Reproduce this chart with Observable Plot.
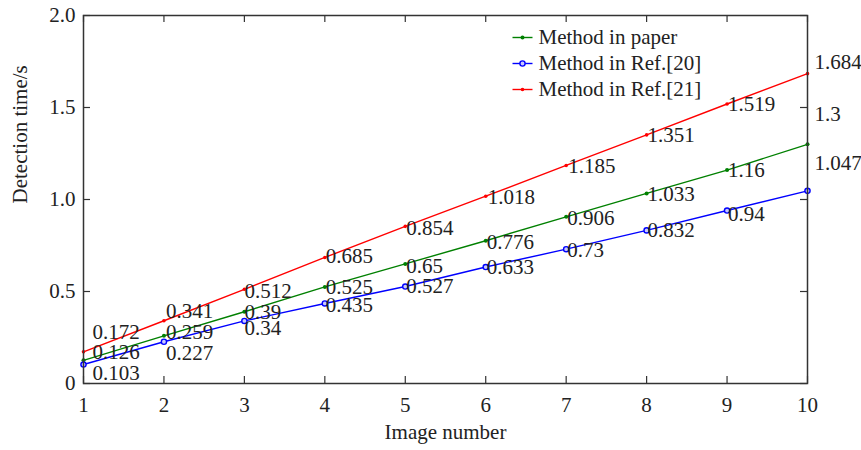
<!DOCTYPE html>
<html>
<head>
<meta charset="utf-8">
<script src="https://cdn.jsdelivr.net/npm/d3@7"></script>
<script src="https://cdn.jsdelivr.net/npm/@observablehq/plot@0.6"></script>
<style>
  html, body { margin: 0; padding: 0; background: #fff; }
</style>
</head>
<body>
<div id="chart"></div>
<script>
// ---- data ----
const imageNumbers = [1, 2, 3, 4, 5, 6, 7, 8, 9, 10];
const paperValues = [0.126, 0.259, 0.39, 0.525, 0.65, 0.776, 0.906, 1.033, 1.16, 1.3];
const ref20Values = [0.103, 0.227, 0.34, 0.435, 0.527, 0.633, 0.73, 0.832, 0.94, 1.047];
const ref21Values = [0.172, 0.341, 0.512, 0.685, 0.854, 1.018, 1.185, 1.351, 1.519, 1.684];
const seriesNames = ["Method in paper", "Method in Ref.[20]", "Method in Ref.[21]"];
const xTicks = [1, 2, 3, 4, 5, 6, 7, 8, 9, 10];
const yTicks = [0, 0.5, 1.0, 1.5, 2.0];
const yTickLabels = ["0", "0.5", "1.0", "1.5", "2.0"];
const xTitle = "Image number";
const yTitle = "Detection time/s";

// ---- styling / layout (not data) ----
const colors = ["#008000", "#0000ff", "#ff0000"];
const labelOffsets = [
  // [dx, dy] per point for each series' value labels
  [[9,-8],[2,-4],[0,1],[1,0],[1,2],[1,2],[1,1],[1,1],[1,0],[7,-30]],
  [[9,9],[2,12],[0,7],[1,2],[1,0],[1,0],[1,1],[1,0],[1,4],[7,-28]],
  [[9,-20],[2,-9],[0,2],[1,-1],[1,2],[2,1],[2,1],[1,0],[1,0],[7,-11]]
];
const markerStyles = [
  {r: 2, fill: colors[0], stroke: colors[0], strokeWidth: 0},
  {r: 2.6, fill: "#c8c8ff", stroke: colors[1], strokeWidth: 1.4},
  {r: 1.8, fill: colors[2], stroke: colors[2], strokeWidth: 0}
];

const allValues = [paperValues, ref20Values, ref21Values];
const rows = allValues.flatMap((vals, s) =>
  imageNumbers.map((n, i) => ({series: seriesNames[s], s, i, x: n, y: vals[i]})));

const W = 861, H = 450;
const mL = 83, mR = 54, mT = 15, mB = 67;
const innerW = W - mL - mR, innerH = H - mT - mB;
const fmt = d3.format("");
const FONT = "Liberation Serif, Times New Roman, serif";

const marks = [];

// inward ticks on all four sides
marks.push(Plot.tickX(xTicks, {x: d => d, insetTop: innerH - 7, stroke: "#333", strokeWidth: 1.2}));
marks.push(Plot.tickX(xTicks, {x: d => d, insetBottom: innerH - 7, stroke: "#333", strokeWidth: 1.2}));
marks.push(Plot.tickY(yTicks, {y: d => d, insetRight: innerW - 7, stroke: "#333", strokeWidth: 1.2}));
marks.push(Plot.tickY(yTicks, {y: d => d, insetLeft: innerW - 7, stroke: "#333", strokeWidth: 1.2}));

// axes labels
marks.push(Plot.axisX({ticks: xTicks, tickSize: 0, tickPadding: 14, label: null, tickFormat: fmt, fill: "#222"}));
marks.push(Plot.axisY({ticks: yTicks, tickSize: 0, tickPadding: 8, label: null,
  tickFormat: d => yTickLabels[yTicks.indexOf(d)], fill: "#222"}));

// lines, markers
seriesNames.forEach((name, s) => {
  const data = rows.filter(d => d.s === s);
  marks.push(Plot.line(data, {x: "x", y: "y", stroke: colors[s], strokeWidth: 1.4}));
  marks.push(Plot.dot(data, {x: "x", y: "y", ...markerStyles[s]}));
});

// value labels
rows.forEach(d => {
  const [dx, dy] = labelOffsets[d.s][d.i];
  marks.push(Plot.text([d], {x: "x", y: "y", text: v => fmt(v.y), textAnchor: "start",
    lineAnchor: "middle", dx, dy, fill: "#222", fontSize: 21}));
});

// legend
seriesNames.forEach((name, s) => {
  const dy = 22 + s * 26;
  const lineSym = {
    draw(ctx) { ctx.moveTo(-10, 0); ctx.lineTo(10, 0); }
  };
  marks.push(Plot.dot([name], {frameAnchor: "top-left", dx: 439, dy, symbol: lineSym,
    stroke: colors[s], strokeWidth: 1.4, r: 10}));
  marks.push(Plot.dot([name], {frameAnchor: "top-left", dx: 439, dy, ...markerStyles[s]}));
  marks.push(Plot.text([name], {frameAnchor: "top-left", dx: 455, dy, text: d => d,
    textAnchor: "start", lineAnchor: "middle", fill: "#222", fontSize: 21}));
});

// axis titles
marks.push(Plot.text([yTitle], {frameAnchor: "left", dx: -63, dy: 4, rotate: -90, text: d => d,
  fill: "#222", fontSize: 21}));
marks.push(Plot.text([xTitle], {frameAnchor: "bottom", dy: 55, text: d => d, fill: "#222", fontSize: 21}));

marks.push(Plot.frame({stroke: "#333", strokeWidth: 1.5}));

const chart = Plot.plot({
  width: W, height: H,
  marginLeft: mL, marginRight: mR, marginTop: mT, marginBottom: mB,
  x: {domain: [1, 10], axis: null},
  y: {domain: [0, 2], axis: null},
  style: {fontFamily: FONT, fontSize: "21px", background: "#fff", color: "#222", overflow: "visible"},
  marks
});
document.getElementById("chart").appendChild(chart);
</script>
</body>
</html>
